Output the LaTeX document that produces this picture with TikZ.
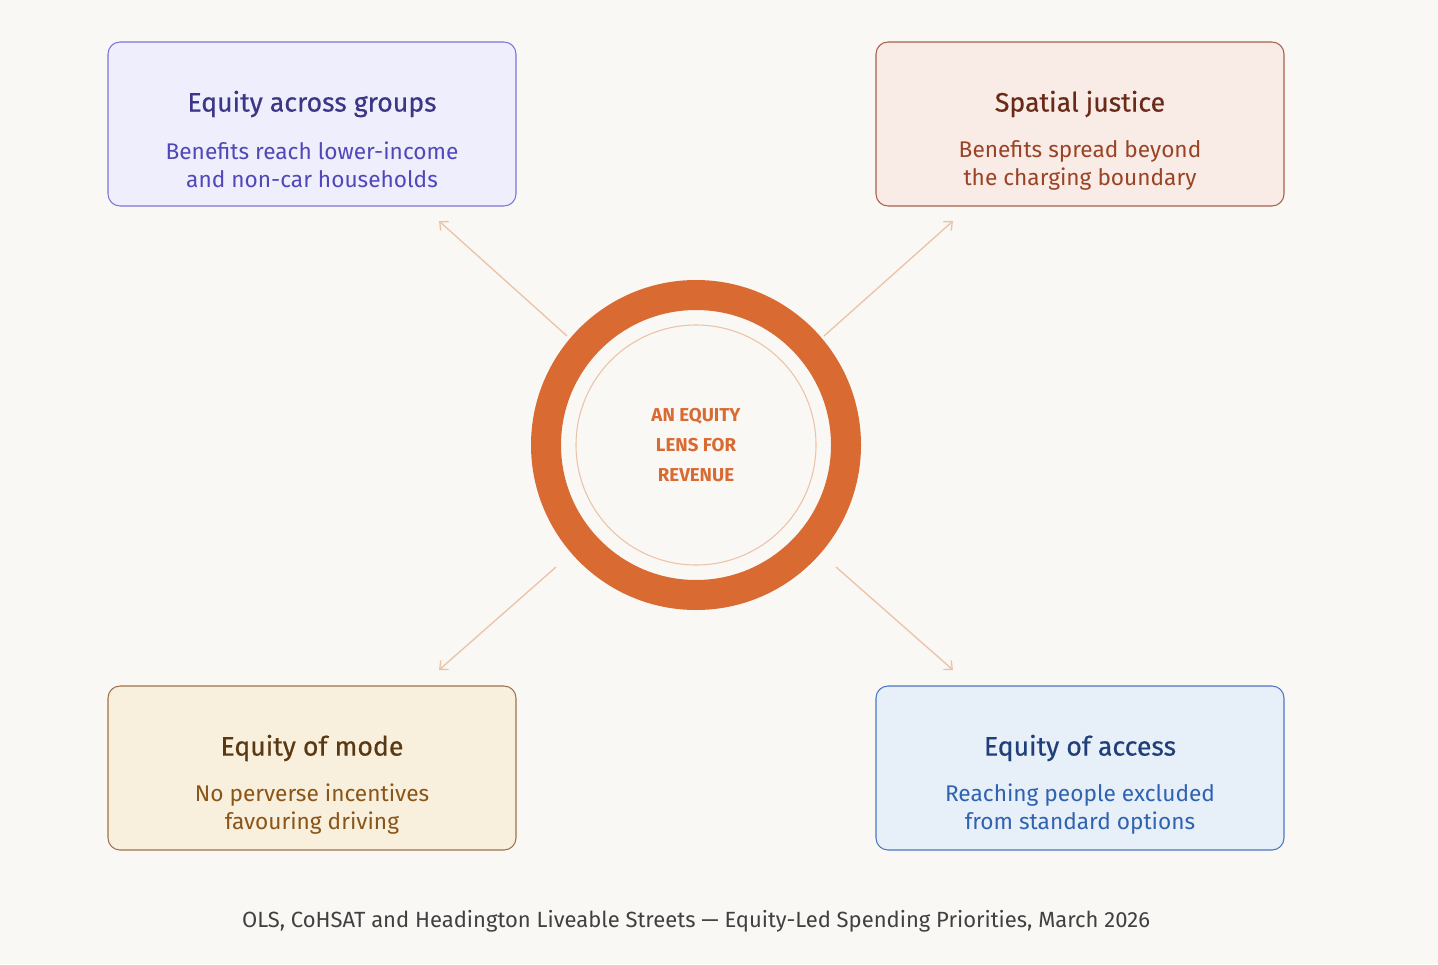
\documentclass[tikz,border=0pt]{standalone}
\usepackage{fontspec}
\setmainfont{Fira Sans}
\usetikzlibrary{arrows.meta}
\definecolor{bg}{HTML}{F9F8F5}
\definecolor{ring}{HTML}{D96A32}
\definecolor{arr}{HTML}{EDC3A8}
\definecolor{fa}{HTML}{EEEEFC}\definecolor{ba}{HTML}{7B74D6}\definecolor{ta}{HTML}{3D3585}\definecolor{sa}{HTML}{5048B8}
\definecolor{fb}{HTML}{F9ECE6}\definecolor{bb}{HTML}{A8604A}\definecolor{tb}{HTML}{6B2A17}\definecolor{sb}{HTML}{9A4326}
\definecolor{fc}{HTML}{F8EFDD}\definecolor{bc}{HTML}{A0724A}\definecolor{tc}{HTML}{5A3812}\definecolor{sc}{HTML}{8A5517}
\definecolor{fd}{HTML}{E7EFF9}\definecolor{bd}{HTML}{4D77C2}\definecolor{td}{HTML}{1F3F78}\definecolor{sd}{HTML}{2F62B0}
\tikzset{
 card/.style={rounded corners=9pt,line width=0.8pt,minimum width=306pt,minimum height=123pt},
 ttl/.style={font=\fontsize{20}{24}\selectfont\addfontfeature{FakeBold=0.5}},
 sub/.style={font=\fontsize{17}{21}\selectfont,align=center},
 conn/.style={draw=arr,line width=1pt,-{Straight Barb[length=5pt,width=9pt]}}
}
\begin{document}
\begin{tikzpicture}[x=0.75pt,y=-0.75pt]
\fill[bg] (0,0) rectangle (1438,964);
\useasboundingbox (0,0) rectangle (1438,964);
\node[card,draw=ba,fill=fa] (A) at (312,124) {};
\node[card,draw=bb,fill=fb] (B) at (1080,124) {};
\node[card,draw=bc,fill=fc] (C) at (312,768) {};
\node[card,draw=bd,fill=fd] (D) at (1080,768) {};
\node[ttl,text=ta] (At) at (312,104) {Equity across groups};
\node[sub,text=sa] (As) at (312,165) {Benefits reach lower-income\\and non-car households};
\node[ttl,text=tb] (Bt) at (1080,104) {Spatial justice};
\node[sub,text=sb] (Bs) at (1080,165) {Benefits spread beyond\\the charging boundary};
\node[ttl,text=tc] (Ct) at (312,748) {Equity of mode};
\node[sub,text=sc] (Cs) at (312,809) {No perverse incentives\\favouring driving};
\node[ttl,text=td] (Dt) at (1080,748) {Equity of access};
\node[sub,text=sd] (Ds) at (1080,809) {Reaching people excluded\\from standard options};
\node[circle,draw=ring,line width=22.5pt,minimum size=225pt,inner sep=0pt] (R) at (696,445) {};
\node[circle,draw=arr,line width=0.8pt,minimum size=180pt,inner sep=0pt] (Ri) at (696,445) {};
\node[text=ring,font=\fontsize{14}{22.5}\selectfont\bfseries,align=center] (Rt) at (696,445) {AN EQUITY\\LENS FOR\\REVENUE};
\coordinate (a1) at (567,336); \coordinate (a2) at (439,221);
\coordinate (b1) at (824,336); \coordinate (b2) at (953,221);
\coordinate (c1) at (556,567); \coordinate (c2) at (439,670);
\coordinate (d1) at (836,567); \coordinate (d2) at (953,670);
\draw[conn] (a1) -- (a2);
\draw[conn] (b1) -- (b2);
\draw[conn] (c1) -- (c2);
\draw[conn] (d1) -- (d2);
\node[text=black!75,font=\fontsize{16.5}{20}\selectfont] (F) at (696,921) {OLS, CoHSAT and Headington Liveable Streets — Equity-Led Spending Priorities, March 2026};
\end{tikzpicture}
\end{document}
